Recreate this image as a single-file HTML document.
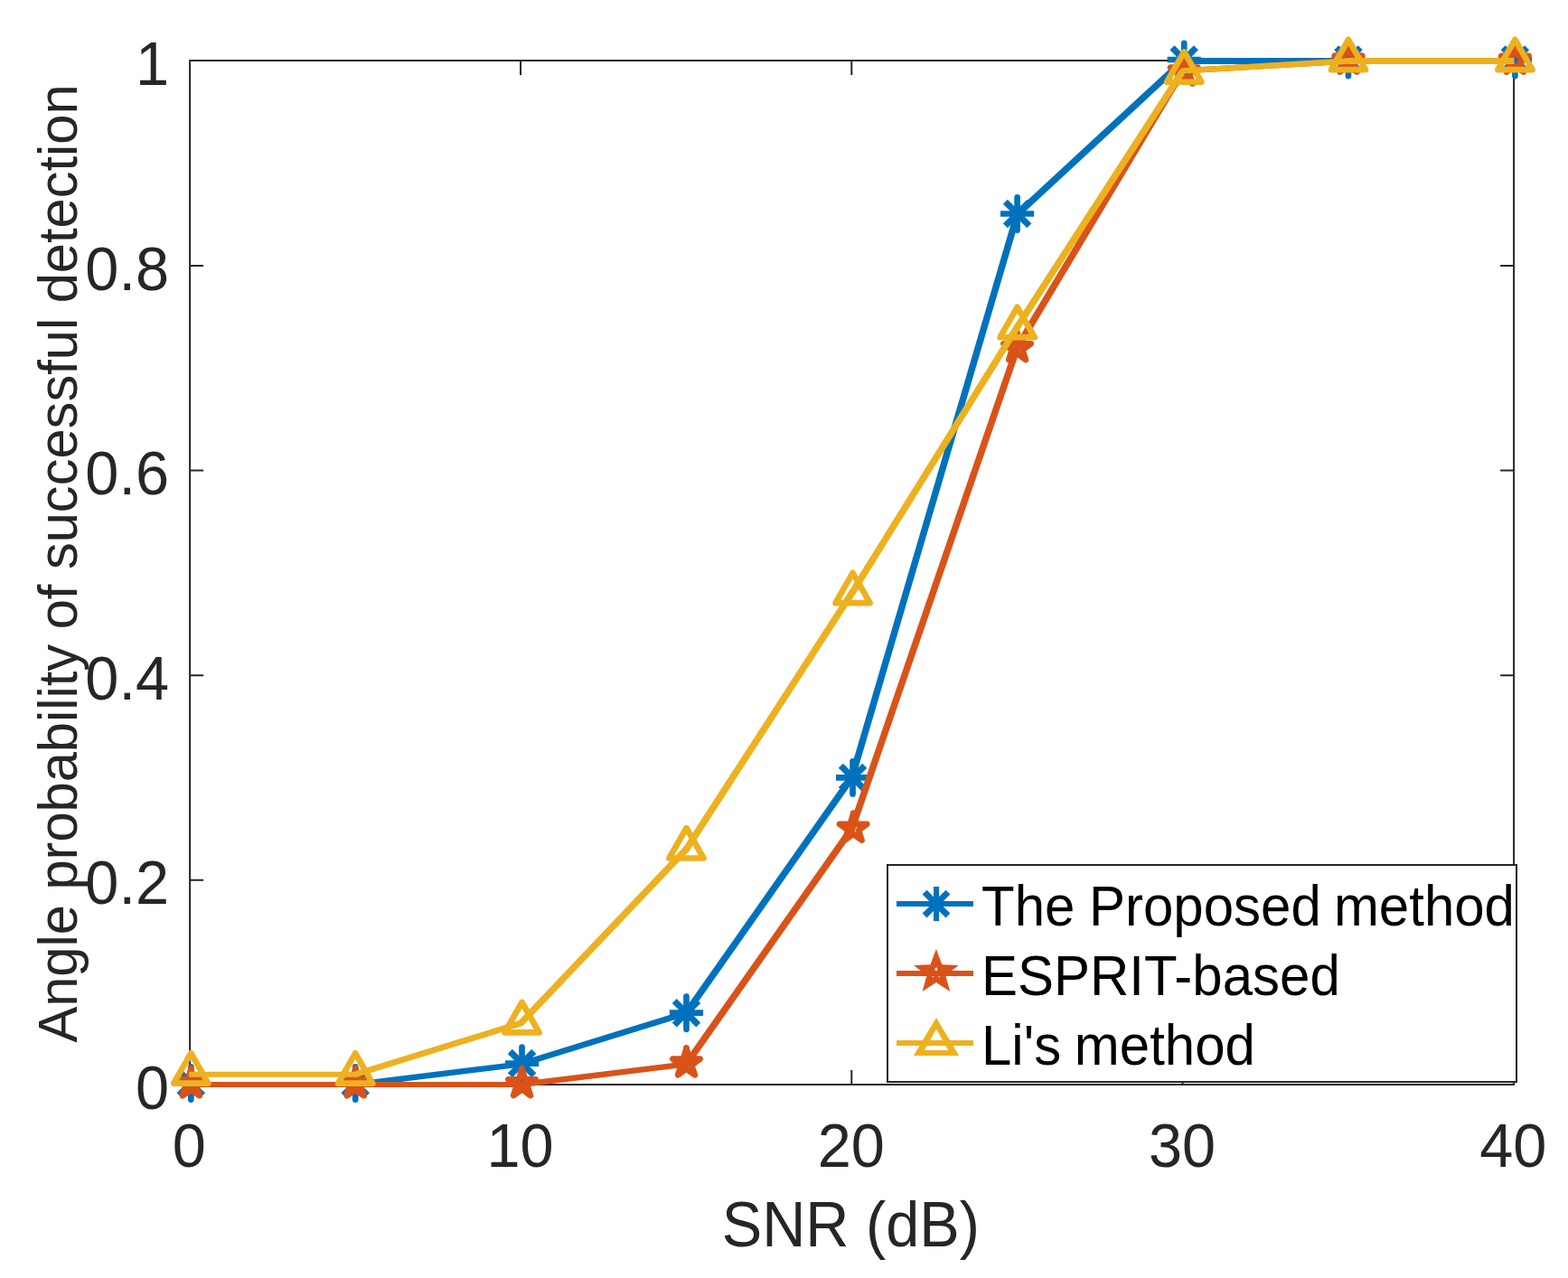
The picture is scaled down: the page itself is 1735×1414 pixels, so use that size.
<!DOCTYPE html>
<html lang="en"><head><meta charset="utf-8"><title>Angle probability of successful detection vs SNR</title>
<style>html,body{margin:0;padding:0;background:#fff}body{width:1735px;height:1414px;overflow:hidden}svg{display:block}text{font-family:"Liberation Sans",sans-serif}</style>
</head><body>
<svg width="1735" height="1414" viewBox="0 0 1735 1414">
<rect width="1735" height="1414" fill="#fff"/>
<g fill="none" stroke="#262626" stroke-width="2.0" stroke-linecap="square">
<rect x="210.1" y="67" width="1465" height="1133"/>
</g>
<g fill="none" stroke="#262626" stroke-width="2.0">
<path d="M576.05 1200v-16M576.05 67v16M942.3 1200v-16M942.3 67v16M1308.55 1200v-16M1308.55 67v16M210.1 973.8h15M1675.1 973.8h-15M210.1 747.2h15M1675.1 747.2h-15M210.1 520.6h15M1675.1 520.6h-15M210.1 294h15M1675.1 294h-15"/>
</g>
<g fill="#262626" font-size="66.67px">
<g text-anchor="middle">
<text transform="translate(209.3 1291) scale(1 1.02)">0</text>
<text transform="translate(575.55 1291) scale(1 1.02)">10</text>
<text transform="translate(941.8 1291) scale(1 1.02)">20</text>
<text transform="translate(1308.05 1291) scale(1 1.02)">30</text>
<text transform="translate(1674.3 1291) scale(1 1.02)">40</text>
<text transform="translate(941.3 1379) scale(1 1.06)">SNR (dB)</text>
</g>
<g text-anchor="end">
<text transform="translate(187 1227) scale(1 1.02)">0</text>
<text transform="translate(187 1000.4) scale(1 1.02)">0.2</text>
<text transform="translate(187 773.8) scale(1 1.02)">0.4</text>
<text transform="translate(187 547.2) scale(1 1.02)">0.6</text>
<text transform="translate(187 320.6) scale(1 1.02)">0.8</text>
<text transform="translate(187 94) scale(1 1.02)">1</text>
</g>
<text transform="translate(85.1 623.5) rotate(-90) scale(1 1.03)" text-anchor="middle" font-size="59.6px">Angle probability of successful detection</text>
</g>
<g fill="none" stroke="#0072BD" stroke-linejoin="round">
<path stroke-width="6" d="M209 1200L393.23 1200"/>
<path stroke-width="6.45" d="M393.23 1200L576.35 1177.34"/>
<path stroke-width="6.73" d="M576.35 1177.34L759.48 1120.69"/>
<path stroke-width="7.5" d="M759.48 1120.69L942.6 860.1"/>
<path stroke-width="7.5" d="M942.6 860.1L1125.72 236.95"/>
<path stroke-width="7.44" d="M1125.72 236.95L1308.85 67.5"/>
<path stroke-width="6.9" d="M1308.85 67.5L1491.97 67.5"/>
<path stroke-width="6.9" d="M1491.97 67.5L1675.4 67.5"/>
<circle cx="393.23" cy="1200" r="3" fill="#0072BD" stroke="none"/>
<circle cx="576.35" cy="1177.34" r="3.22" fill="#0072BD" stroke="none"/>
<circle cx="759.48" cy="1120.69" r="3.36" fill="#0072BD" stroke="none"/>
<circle cx="942.6" cy="860.1" r="3.75" fill="#0072BD" stroke="none"/>
<circle cx="1125.72" cy="236.95" r="3.72" fill="#0072BD" stroke="none"/>
<circle cx="1308.85" cy="67.5" r="3.45" fill="#0072BD" stroke="none"/>
<circle cx="1491.97" cy="67.5" r="3.45" fill="#0072BD" stroke="none"/>
<g stroke-width="6.7">
<path d="M192.7 1198.5H229.9"/><path stroke-width="7.1" d="M198.08 1185.28L224.52 1211.72M198.08 1211.72L224.52 1185.28"/><path stroke-linecap="round" d="M211.3 1180.4V1216.6"/>
<path d="M374.62 1198.5H411.83"/><path stroke-width="7.1" d="M380 1185.28L406.45 1211.72M380 1211.72L406.45 1185.28"/><path stroke-linecap="round" d="M393.23 1180.4V1216.6"/>
<path d="M558.95 1176.59H596.15"/><path stroke-width="7.1" d="M564.33 1163.37L590.77 1189.81M564.33 1189.81L590.77 1163.37"/><path stroke-linecap="round" d="M577.55 1158.49V1194.69"/>
<path d="M740.88 1120.69H778.08"/><path stroke-width="7.1" d="M746.25 1107.47L772.7 1133.91M746.25 1133.91L772.7 1107.47"/><path stroke-linecap="round" d="M759.48 1102.59V1138.79"/>
<path d="M924.95 860.4H962.15"/><path stroke-width="7.1" d="M930.33 847.18L956.77 873.62M930.33 873.62L956.77 847.18"/><path stroke-linecap="round" d="M943.55 842.3V878.5"/>
<path d="M1107.03 236.5H1144.22"/><path stroke-width="7.1" d="M1112.4 223.28L1138.85 249.72M1112.4 249.72L1138.85 223.28"/><path stroke-linecap="round" d="M1125.62 218.4V254.6"/>
<path d="M1291.65 66H1328.85"/><path stroke-width="7.1" d="M1297.03 52.78L1323.47 79.22M1297.03 79.22L1323.47 52.78"/><path stroke-linecap="round" d="M1310.25 47.9V84.1"/>
<path d="M1473.38 66H1510.57"/><path stroke-width="7.1" d="M1478.75 52.78L1505.2 79.22M1478.75 79.22L1505.2 52.78"/><path stroke-linecap="round" d="M1491.97 47.9V84.1"/>
<path d="M1657.8 66H1695"/><path stroke-width="7.1" d="M1663.18 52.78L1689.62 79.22M1663.18 79.22L1689.62 52.78"/><path stroke-linecap="round" d="M1676.4 47.9V84.1"/>
</g></g>
<g fill="none" stroke="#D95319" stroke-linejoin="round">
<path stroke-width="6" d="M209 1200L393.23 1200"/>
<path stroke-width="6" d="M393.23 1200L576.35 1200"/>
<path stroke-width="6.45" d="M576.35 1200L759.48 1177.34"/>
<path stroke-width="7.5" d="M759.48 1177.34L942.6 916.75"/>
<path stroke-width="7.5" d="M942.6 916.75L1125.72 384.24"/>
<path stroke-width="7.5" d="M1125.72 384.24L1308.85 78.33"/>
<path stroke-width="6.34" d="M1308.85 78.33L1491.97 67.5"/>
<path stroke-width="6.9" d="M1491.97 67.5L1675.4 67.5"/>
<circle cx="393.23" cy="1200" r="3" fill="#D95319" stroke="none"/>
<circle cx="576.35" cy="1200" r="3" fill="#D95319" stroke="none"/>
<circle cx="759.48" cy="1177.34" r="3.22" fill="#D95319" stroke="none"/>
<circle cx="942.6" cy="916.75" r="3.75" fill="#D95319" stroke="none"/>
<circle cx="1125.72" cy="384.24" r="3.75" fill="#D95319" stroke="none"/>
<circle cx="1308.85" cy="78.33" r="3.17" fill="#D95319" stroke="none"/>
<circle cx="1491.97" cy="67.5" r="3.17" fill="#D95319" stroke="none"/>
<g stroke-width="6.7">
<path d="M211.3 1183.45L214.87 1194.44L226.42 1194.44L217.08 1201.23L220.65 1212.21L211.3 1205.42L201.95 1212.21L205.52 1201.23L196.18 1194.44L207.73 1194.44Z"/><path stroke-linecap="round" d="M211.3 1185.45v-3.3"/>
<path d="M393.23 1183.45L396.79 1194.44L408.35 1194.44L399 1201.23L402.57 1212.21L393.23 1205.42L383.88 1212.21L387.45 1201.23L378.1 1194.44L389.66 1194.44Z"/><path stroke-linecap="round" d="M393.23 1185.45v-3.3"/>
<path d="M577.55 1183.3L581.12 1194.29L592.67 1194.29L583.33 1201.08L586.9 1212.06L577.55 1205.27L568.2 1212.06L571.77 1201.08L562.43 1194.29L573.98 1194.29Z"/><path stroke-linecap="round" d="M577.55 1185.3v-3.3"/>
<path d="M759.48 1160.64L763.04 1171.63L774.6 1171.63L765.25 1178.42L768.82 1189.4L759.48 1182.61L750.13 1189.4L753.7 1178.42L744.35 1171.63L755.91 1171.63Z"/><path stroke-linecap="round" d="M759.48 1162.64v-3.3"/>
<path d="M944.15 900.85L947.72 911.84L959.27 911.84L949.93 918.63L953.5 929.61L944.15 922.82L934.8 929.61L938.37 918.63L929.03 911.84L940.58 911.84Z"/><path stroke-linecap="round" d="M944.15 902.85v-3.3"/>
<path d="M1125.62 369.34L1129.19 380.33L1140.75 380.33L1131.4 387.12L1134.97 398.1L1125.62 391.31L1116.28 398.1L1119.85 387.12L1110.5 380.33L1122.06 380.33Z"/><path stroke-linecap="round" d="M1125.62 371.34v-3.3"/>
<path d="M1310.25 63.73L1313.82 74.72L1325.37 74.72L1316.03 81.51L1319.6 92.49L1310.25 85.7L1300.9 92.49L1304.47 81.51L1295.13 74.72L1306.68 74.72Z"/><path stroke-linecap="round" d="M1310.25 65.73v-3.3"/>
<path d="M1491.97 50.7L1495.54 61.69L1507.1 61.69L1497.75 68.48L1501.32 79.46L1491.97 72.67L1482.63 79.46L1486.2 68.48L1476.85 61.69L1488.41 61.69Z"/><path stroke-linecap="round" d="M1491.97 52.7v-3.3"/>
<path d="M1676.4 50.9L1679.97 61.89L1691.52 61.89L1682.18 68.68L1685.75 79.66L1676.4 72.87L1667.05 79.66L1670.62 68.68L1661.28 61.89L1672.83 61.89Z"/><path stroke-linecap="round" d="M1676.4 52.9v-3.3"/>
</g></g>
<g fill="none" stroke="#EDB120" stroke-linejoin="round">
<path stroke-width="6" d="M209 1188.67L393.23 1188.67"/>
<path stroke-width="6.73" d="M393.23 1188.67L576.35 1132.02"/>
<path stroke-width="7.5" d="M576.35 1132.02L759.48 939.41"/>
<path stroke-width="7.5" d="M759.48 939.41L942.6 656.16"/>
<path stroke-width="7.5" d="M942.6 656.16L1125.72 361.58"/>
<path stroke-width="7.5" d="M1125.72 361.58L1308.85 78.33"/>
<path stroke-width="6.34" d="M1308.85 78.33L1491.97 67.5"/>
<path stroke-width="6.9" d="M1491.97 67.5L1675.4 67.5"/>
<circle cx="393.23" cy="1188.67" r="3" fill="#EDB120" stroke="none"/>
<circle cx="576.35" cy="1132.02" r="3.36" fill="#EDB120" stroke="none"/>
<circle cx="759.48" cy="939.41" r="3.75" fill="#EDB120" stroke="none"/>
<circle cx="942.6" cy="656.16" r="3.75" fill="#EDB120" stroke="none"/>
<circle cx="1125.72" cy="361.58" r="3.75" fill="#EDB120" stroke="none"/>
<circle cx="1308.85" cy="78.33" r="3.17" fill="#EDB120" stroke="none"/>
<circle cx="1491.97" cy="67.5" r="3.17" fill="#EDB120" stroke="none"/>
<g stroke-width="6.7">
<path d="M211.3 1165.37L230.35 1198.67H192.25Z"/>
<path d="M393.23 1165.37L412.28 1198.67H374.18Z"/>
<path d="M577.55 1109.02L596.6 1142.32H558.5Z"/>
<path d="M759.48 916.21L778.52 949.51H740.43Z"/>
<path d="M943.55 633.86L962.6 667.16H924.5Z"/>
<path d="M1125.62 339.88L1144.67 373.18H1106.58Z"/>
<path d="M1310.25 57.43L1329.3 90.73H1291.2Z"/>
<path d="M1491.97 43.8L1511.02 77.1H1472.92Z"/>
<path d="M1676.4 43.8L1695.45 77.1H1657.35Z"/>
</g></g>
<rect x="982" y="957" width="696" height="240" fill="#fff" stroke="#262626" stroke-width="2.0"/>
<g fill="none" stroke="#0072BD" stroke-width="6" stroke-linejoin="miter">
<path d="M992 1000.1H1077"/>
<path d="M1036 981.1V1019.1M1017 1000.1H1055"/><path stroke-width="6.9" d="M1023.06 987.16L1048.94 1013.04M1023.06 1013.04L1048.94 987.16"/>
</g>
<text transform="translate(1086 1024.1) scale(1 1.035)" font-size="60px" fill="#000">The <tspan dx="-1">Proposed</tspan> <tspan dx="-2.6">method</tspan></text>
<g fill="none" stroke="#D95319" stroke-width="6" stroke-linejoin="miter">
<path d="M992 1077H1077"/>
<path stroke="none" fill="#D95319" d="M1035.9 1049.9L1042.31 1067.18L1060.72 1067.93L1046.27 1079.37L1051.24 1097.12L1035.9 1086.9L1020.56 1097.12L1025.53 1079.37L1011.08 1067.93L1029.49 1067.18Z"/><path stroke="none" fill="#fff" d="M1034.7 1070.7h2.4v3.4h-2.4zM1031.7 1079.9h1.4v1.3h-1.4zM1038.7 1079.9h1.4v1.3h-1.4z"/>
</g>
<text transform="translate(1086 1101) scale(1 1.035)" font-size="60px" fill="#000">ESPRIT-based</text>
<g fill="none" stroke="#EDB120" stroke-width="6" stroke-linejoin="miter">
<path d="M992 1154H1077"/>
<path fill-rule="evenodd" stroke="none" fill="#EDB120" d="M1036 1125.9L1061.15 1167.9H1010.85ZM1036 1138.7L1049.2 1162.05H1022.8Z"/>
</g>
<text transform="translate(1086 1177.9) scale(1 1.035)" font-size="60px" fill="#000">Li's <tspan dx="-2">method</tspan></text>
</svg>
</body></html>
